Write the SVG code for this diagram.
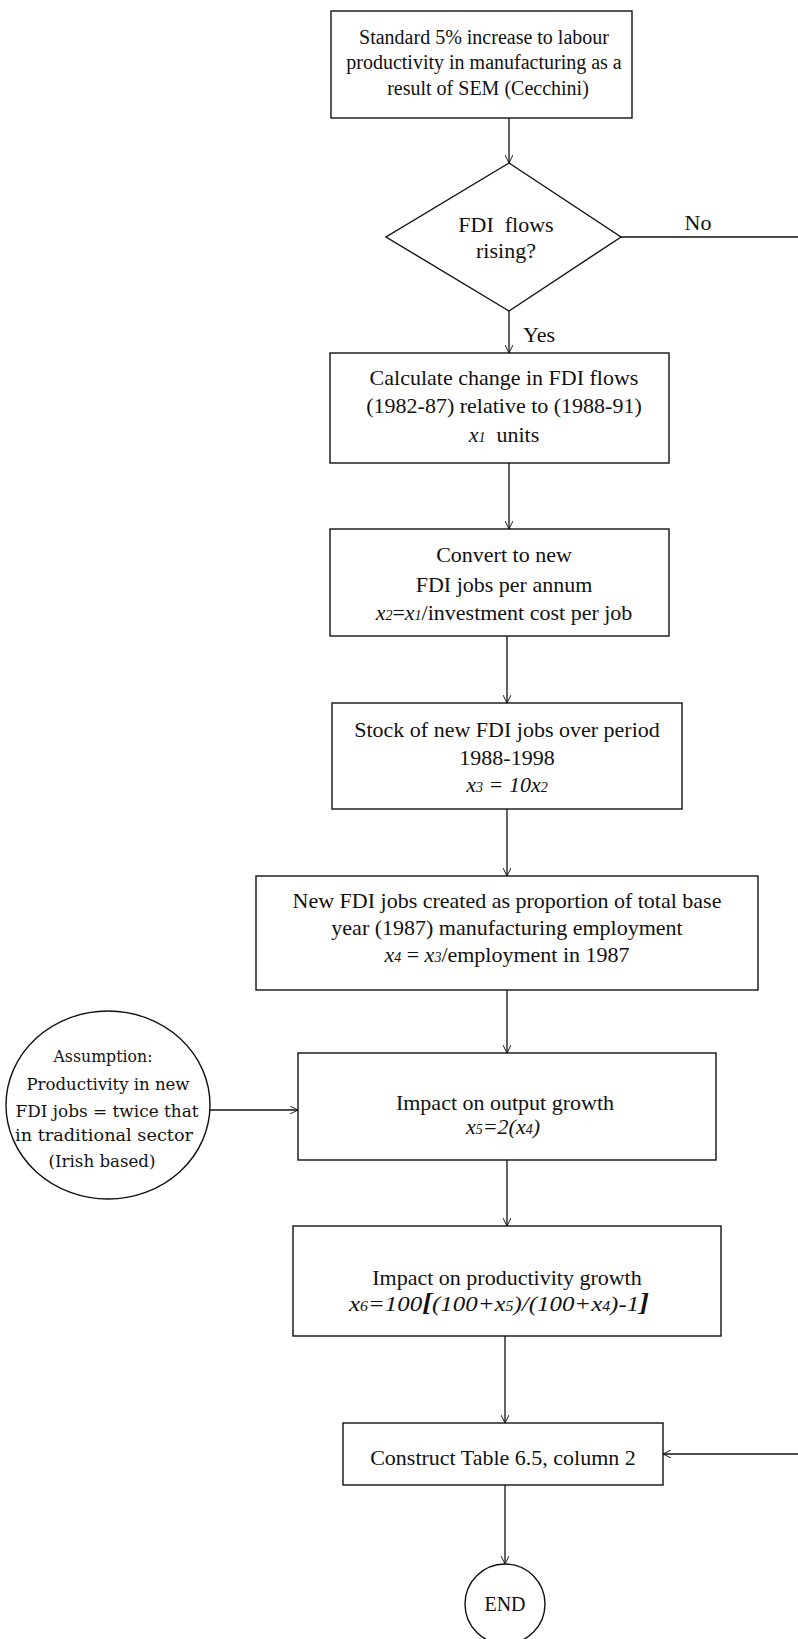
<svg xmlns="http://www.w3.org/2000/svg" width="798" height="1639" viewBox="0 0 798 1639">
<defs>
<marker id="arr" viewBox="0 0 10 10" refX="10" refY="5" markerWidth="8" markerHeight="8" markerUnits="userSpaceOnUse" orient="auto">
<path d="M0,0 L10,5 L0,10" fill="none" stroke="#111" stroke-width="1.2"/>
</marker>
<style>
.box{fill:#fff;stroke:#111;stroke-width:1.4}
.t{font-family:"Liberation Serif","Times New Roman",serif;font-size:22px;fill:#111;text-anchor:middle}
.t20{font-size:20px}
.i{font-style:italic}
.sub{font-size:14px}
.c{font-family:"DejaVu Serif",serif;font-size:16.5px;fill:#111;text-anchor:middle}
.ln{fill:none;stroke:#111;stroke-width:1.3}
</style>
</defs>
<rect width="798" height="1639" fill="#fff"/>

<g id="connectors">
<line class="ln" x1="509" y1="118" x2="509" y2="163" marker-end="url(#arr)"/>
<line class="ln" x1="621" y1="237" x2="798" y2="237"/>
<line class="ln" x1="509" y1="311" x2="509" y2="353" marker-end="url(#arr)"/>
<line class="ln" x1="509" y1="463" x2="509" y2="529" marker-end="url(#arr)"/>
<line class="ln" x1="507" y1="636" x2="507" y2="703" marker-end="url(#arr)"/>
<line class="ln" x1="507" y1="809" x2="507" y2="876" marker-end="url(#arr)"/>
<line class="ln" x1="507" y1="990" x2="507" y2="1053" marker-end="url(#arr)"/>
<line class="ln" x1="210" y1="1110" x2="298" y2="1110" marker-end="url(#arr)"/>
<line class="ln" x1="507" y1="1160" x2="507" y2="1226" marker-end="url(#arr)"/>
<line class="ln" x1="505" y1="1336" x2="505" y2="1423" marker-end="url(#arr)"/>
<line class="ln" x1="798" y1="1454" x2="663" y2="1454" marker-end="url(#arr)"/>
<line class="ln" x1="505" y1="1485" x2="505" y2="1564" marker-end="url(#arr)"/>
<text class="t" x="698" y="230">No</text>
<text class="t" x="539" y="342">Yes</text>
</g>

<g id="start">
<rect class="box" x="331" y="11" width="301" height="107"/>
<text class="t t20" x="484" y="44">Standard 5% increase to labour</text>
<text class="t t20" x="484" y="69">productivity in manufacturing as a</text>
<text class="t t20" x="488" y="95">result of SEM (Cecchini)</text>
</g>

<g id="decision">
<polygon class="box" points="509,163 621,237 509,311 386,237"/>
<text class="t" x="506" y="232" xml:space="preserve">FDI  flows</text>
<text class="t" x="506" y="258">rising?</text>
</g>

<g id="calc">
<rect class="box" x="330" y="353" width="339" height="110"/>
<text class="t" x="504" y="385">Calculate change in FDI flows</text>
<text class="t" x="504" y="413">(1982-87) relative to (1988-91)</text>
<text class="t" x="504" y="442" xml:space="preserve"><tspan class="i">x<tspan class="sub">1</tspan></tspan>  units</text>
</g>

<g id="convert">
<rect class="box" x="330" y="529" width="339" height="107"/>
<text class="t" x="504" y="562">Convert to new</text>
<text class="t" x="504" y="592">FDI jobs per annum</text>
<text class="t" x="504" y="620"><tspan class="i">x<tspan class="sub">2</tspan></tspan>=<tspan class="i">x<tspan class="sub">1</tspan></tspan>/investment cost per job</text>
</g>

<g id="stock">
<rect class="box" x="332" y="703" width="350" height="106"/>
<text class="t" x="507" y="737">Stock of new FDI jobs over period</text>
<text class="t" x="507" y="765">1988-1998</text>
<text class="t i" x="507" y="792">x<tspan class="sub">3</tspan> = 10x<tspan class="sub">2</tspan></text>
</g>

<g id="proportion">
<rect class="box" x="256" y="876" width="502" height="114"/>
<text class="t" x="507" y="908">New FDI jobs created as proportion of total base</text>
<text class="t" x="507" y="935">year (1987) manufacturing employment</text>
<text class="t" x="507" y="962"><tspan class="i">x<tspan class="sub">4</tspan></tspan> = <tspan class="i">x<tspan class="sub">3</tspan></tspan>/employment in 1987</text>
</g>

<g id="assumption">
<ellipse class="box" cx="108" cy="1105" rx="102" ry="94"/>
<text class="c" x="103" y="1062" textLength="99" lengthAdjust="spacingAndGlyphs">Assumption:</text>
<text class="c" x="108" y="1090" textLength="163" lengthAdjust="spacingAndGlyphs">Productivity in new</text>
<text class="c" x="107" y="1117" textLength="183" lengthAdjust="spacingAndGlyphs">FDI jobs = twice that</text>
<text class="c" x="104" y="1141" textLength="178" lengthAdjust="spacingAndGlyphs">in traditional sector</text>
<text class="c" x="102" y="1167" textLength="107" lengthAdjust="spacingAndGlyphs">(Irish based)</text>
</g>

<g id="output">
<rect class="box" x="298" y="1053" width="418" height="107"/>
<text class="t" x="505" y="1110">Impact on output growth</text>
<text class="t i" x="503" y="1134">x<tspan class="sub">5</tspan>=2(x<tspan class="sub">4</tspan>)</text>
</g>

<g id="productivity">
<rect class="box" x="293" y="1226" width="428" height="110"/>
<text class="t" x="507" y="1285">Impact on productivity growth</text>
<text class="t i" x="499" y="1311" textLength="300" lengthAdjust="spacingAndGlyphs">x<tspan class="sub">6</tspan>=100<tspan font-weight="bold" font-size="26">[</tspan>(100+x<tspan class="sub">5</tspan>)/(100+x<tspan class="sub">4</tspan>)-1<tspan font-weight="bold" font-size="26">]</tspan></text>
</g>

<g id="table">
<rect class="box" x="343" y="1423" width="320" height="62"/>
<text class="t" x="503" y="1465">Construct Table 6.5, column 2</text>
</g>

<g id="end">
<circle class="box" cx="505" cy="1604" r="40"/>
<text class="t t20" x="505" y="1611">END</text>
</g>
</svg>
